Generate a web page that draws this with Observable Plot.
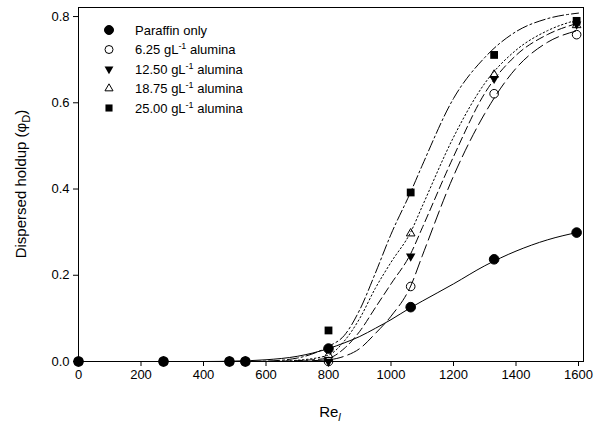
<!DOCTYPE html>
<html>
<head>
<meta charset="utf-8">
<script src="https://cdn.jsdelivr.net/npm/d3@7"></script>
<script src="https://cdn.jsdelivr.net/npm/@observablehq/plot@0.6"></script>
<style>
  html, body { margin: 0; padding: 0; background: #fff; }
  #chart { width: 596px; height: 425px; position: relative; }
  svg { font-family: "Liberation Sans", Arial, sans-serif; }
</style>
</head>
<body>
<div id="chart"></div>
<script>
// ---- measured points ----
const pointRe = [0, 272, 483, 534, 800, 1063, 1330, 1594];
const seriesNames = ["Paraffin only", "6.25", "12.50", "18.75", "25.00"];
const pParaffin = [0, 0, 0, 0, 0.030, 0.126, 0.237, 0.299];
const p625  = [0, 0, 0, 0, 0.000, 0.174, 0.621, 0.758];
const p1250 = [0, 0, 0, 0, 0.000, 0.244, 0.656, 0.782];
const p1875 = [0, 0, 0, 0, 0.015, 0.297, 0.665, 0.780];
const p2500 = [0, 0, 0, 0, 0.072, 0.392, 0.711, 0.790];

// ---- fitted curves ----
const curveRe = [0, 400, 500, 600, 700, 800, 850, 900, 950, 1000, 1063, 1100, 1200, 1300, 1400, 1500, 1600];
const cParaffin = [0, 0, 0.001, 0.004, 0.012, 0.030, 0.043, 0.058, 0.077, 0.097, 0.125, 0.140, 0.180, 0.222, 0.256, 0.282, 0.300];
const c625  = [0, 0, 0, 0, 0.001, 0.004, 0.012, 0.030, 0.065, 0.105, 0.175, 0.245, 0.430, 0.575, 0.680, 0.740, 0.768];
const c1250 = [0, 0, 0, 0, 0.002, 0.008, 0.030, 0.070, 0.125, 0.180, 0.250, 0.310, 0.475, 0.622, 0.710, 0.758, 0.785];
const c1875 = [0, 0, 0, 0, 0.003, 0.015, 0.047, 0.100, 0.170, 0.230, 0.300, 0.360, 0.520, 0.645, 0.722, 0.767, 0.793];
const c2500 = [0, 0, 0, 0.001, 0.008, 0.035, 0.060, 0.120, 0.205, 0.295, 0.393, 0.455, 0.610, 0.705, 0.765, 0.795, 0.808];

const xTicks = [0, 200, 400, 600, 800, 1000, 1200, 1400, 1600];
const yTicks = [0.0, 0.2, 0.4, 0.6, 0.8];

const pointSets = [pParaffin, p625, p1250, p1875, p2500];
const curveSets = [cParaffin, c625, c1250, c1875, c2500];
const dashes = [null, "13,5", "8,4", "1.5,2.5", "11,3,2,3"];
const symbols = ["circle", "circle", "triangle", "triangle", "square"];
const fills = ["black", "none", "black", "none", "black"];
const strokes = ["black", "black", "none", "black", "none"];
const rotates = [0, 0, 180, 0, 0];
const radii = [4.8, 4.3, 3.5, 3.2, 4.4];
const legendRadii = [4.5, 4.0, 3.3, 3.0, 4.0];

const marks = [Plot.frame({stroke: "black", strokeWidth: 1})];
curveSets.forEach((vals, i) => {
  const data = curveRe.map((x, j) => ({x, y: vals[j]}));
  marks.push(Plot.line(data, {x: "x", y: "y", stroke: "black", strokeWidth: 1, curve: "monotone-x",
    strokeDasharray: dashes[i] || undefined}));
});
for (let i = pointSets.length - 1; i >= 0; i--) {
  const data = pointRe.map((x, j) => ({x, y: pointSets[i][j]}));
  marks.push(Plot.dot(data, {x: "x", y: "y", symbol: () => symbols[i], r: radii[i],
    fill: fills[i], stroke: strokes[i], strokeWidth: 1, rotate: rotates[i]}));
}
marks.push(Plot.axisX({ticks: xTicks, tickSize: 5, tickFormat: d => String(d), label: null, fontSize: 13, tickPadding: 3}));
marks.push(Plot.axisY({ticks: yTicks, tickSize: 5, tickFormat: d3.format(".1f"), label: null, fontSize: 13, tickPadding: 4}));

const svg = Plot.plot({
  width: 596,
  height: 425,
  marginLeft: 78,
  marginRight: 13,
  marginTop: 7,
  marginBottom: 64,
  style: {fontFamily: "'Liberation Sans', Arial, sans-serif", fontSize: "13px", color: "black", background: "white"},
  x: {domain: [0, 1616]},
  y: {domain: [0, 0.821]},
  symbol: {type: "identity"},
  marks
});

const s = d3.select(svg);
// x label
const xl = s.append("text").attr("x", 330).attr("y", 417).attr("text-anchor", "middle")
  .attr("font-size", 15).attr("fill", "black");
xl.append("tspan").text("Re");
xl.append("tspan").attr("font-style", "italic").attr("font-size", 11).attr("dy", 4).text("l");
// y label
const yl = s.append("text").attr("transform", "translate(26,184) rotate(-90)").attr("text-anchor", "middle")
  .attr("font-size", 15).attr("fill", "black");
yl.append("tspan").text("Dispersed holdup (\u03C6");
yl.append("tspan").attr("font-size", 11).attr("dy", 4).text("D");
yl.append("tspan").attr("dy", -4).text(")");

// legend
const legendY0 = 30, legendDy = 19.5;
const symTypes = {circle: d3.symbolCircle, triangle: d3.symbolTriangle, square: d3.symbolSquare};
seriesNames.forEach((name, i) => {
  const y = legendY0 + i * legendDy;
  const area = Math.PI * legendRadii[i] * legendRadii[i];
  s.append("path").attr("d", d3.symbol(symTypes[symbols[i]], area)())
    .attr("transform", `translate(109,${y}) rotate(${rotates[i]})`)
    .attr("fill", fills[i]).attr("stroke", strokes[i]);
  const t = s.append("text").attr("x", 135).attr("y", y + 4.5).attr("font-size", 13)
    .attr("text-anchor", "start").attr("fill", "black");
  if (i === 0) {
    t.text(name);
  } else {
    t.append("tspan").text(name + " gL");
    t.append("tspan").attr("font-size", 9).attr("dy", -5).text("-1");
    t.append("tspan").attr("dy", 5).text(" alumina");
  }
});

document.getElementById("chart").appendChild(svg);
</script>
</body>
</html>
